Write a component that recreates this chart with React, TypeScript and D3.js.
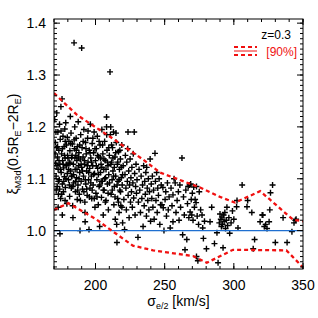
import React from "react";
import { scaleLinear, line, range } from "d3";

// scatter: [sigma_e/2, xi]
const points: [number, number][] = [
  [170.5,1.214],[171,1.17],[171.2,1.13],[171.5,1.105],[171.8,1.16],[172,1.227],[172.3,1.085],[172.5,1.142],[172.8,1.19],[173,1.118],
  [173.2,1.07],[173.5,1.155],[173.8,1.098],[174,1.205],[174.3,1.128],[174.5,1.176],[174.8,1.062],[175,1.239],[175.2,1.112],[175.5,1.148],
  [175.8,1.254],[176,1.09],[176.2,1.135],[176.5,1.182],[176.8,1.075],[177,1.121],[177.3,1.162],[177.5,1.104],[177.8,1.196],[178,1.14],
  [178.2,1.083],[178.5,1.208],[178.8,1.127],[179,1.165],[179.3,1.052],[179.6,1.11],[179.8,1.145],[174.3,0.994],[173,1.045],[176,1.03],[178,1.058],
  [180.5,1.098],[180.8,1.172],[181,1.132],[181.3,1.066],[181.5,1.154],[181.8,1.22],[182,1.115],[182.3,1.188],[182.5,1.082],[182.8,1.141],
  [183,1.105],[183.3,1.167],[183.5,1.048],[183.7,1.025],[184,1.128],[184.2,1.092],[184.5,1.362],[184.8,1.158],[185,1.2],[185.3,1.118],
  [185.5,1.075],[185.8,1.145],[186,1.178],[186.3,1.102],[186.5,1.135],[186.8,1.06],[187,1.162],[187.3,1.088],[187.5,1.21],[187.8,1.125],
  [188,1.15],[188.3,1.07],[188.6,1.112],[188.8,1.0],[189,1.138],[189.3,1.185],[189.6,1.095],[190,1.352],[190,1.122],
  [190.3,1.16],[190.6,1.08],[191,1.142],[191.3,1.105],[191.6,1.195],[192,1.128],[192.3,1.055],[192.4,1.035],[192.5,1.017],[192.8,1.17],
  [193,1.09],[193.3,1.148],[193.6,1.115],[194,1.068],[194.3,1.178],[194.6,1.132],[195,1.098],[195.3,1.002],[195.5,1.155],[195.8,1.12],
  [196,1.082],[196.3,1.205],[196.6,1.14],[197,1.105],[197.3,1.062],[197.6,1.168],[198,1.125],[198.3,1.088],[198.6,1.15],[199,1.19],
  [199.3,1.11],[199.6,1.045],[200,1.135],
  [200.3,1.072],[200.6,1.158],[201,1.098],[201.3,1.182],[201.6,1.12],[202,1.05],[202.3,1.142],[202.6,1.085],[203,1.008],[203.3,1.165],
  [203.6,1.112],[204,1.128],[204.3,1.064],[204.6,1.195],[205,1.095],[205.3,1.148],[205.6,1.03],[206,1.118],[206.3,1.078],[206.6,1.172],
  [207,1.135],[207.3,1.102],[207.6,1.058],[208,1.219],[208.3,1.155],[208.6,1.09],[209,1.125],[209.3,1.04],[209.6,1.108],[210,1.145],[210.5,1.306],
  [210.8,1.185],[211,1.2],[211.3,1.07],[211.6,1.132],[212,1.098],[212.3,1.16],[212.6,1.115],[213,1.19],[213.3,1.05],[213.6,1.085],
  [214,1.142],[214.3,1.022],[214.6,1.105],[215,1.17],[215.3,1.012],[215.5,0.977],[215.8,1.128],[216,1.062],[216.3,1.095],[216.6,1.152],
  [217,1.035],[217.3,1.118],[217.6,1.078],[218,1.138],[218.3,1.048],[218.6,1.102],[219,1.165],[219.3,1.088],[219.6,1.015],[220,1.125],
  [220.5,1.06],[221,1.002],[221.3,1.108],[221.6,1.145],[222,1.082],[222.3,1.04],[222.6,1.132],[223,1.095],[223.3,1.158],[223.6,1.068],
  [224,1.115],[224.3,1.025],[224.6,1.088],[225,1.138],[225.3,1.055],[225.6,1.102],[226,1.075],[226.3,1.122],[226.6,1.045],[227,1.092],
  [227.3,1.148],[227.6,1.063],[228,1.19],[228.3,1.11],[228.6,1.03],[229,1.085],[229.3,1.128],[229.6,1.072],[230,1.098],[230.7,0.987],
  [231,1.055],[231.5,1.118],[232,1.078],[232.5,1.035],[233,1.105],[233.5,1.062],[234,1.088],[234.4,1.008],[234.8,1.125],[235.2,1.048],
  [235.6,1.095],[236,1.07],[236.4,1.112],[236.8,1.028],[237,1.122],[237.4,1.082],[237.8,1.058],[238.2,1.1],[238.6,1.04],[239,1.075],
  [239.5,1.138],[239.8,1.018],
  [240.3,1.09],[240.7,1.062],[241.1,1.105],[241.5,1.045],[242,1.078],[242.4,1.022],[243,1.149],[243.3,1.095],[243.7,1.058],[244.2,1.112],
  [244.6,1.035],[245,1.082],[245.5,1.068],[246,1.1],[246.5,1.012],[247,1.05],[247.5,1.088],[248,1.05],[248.7,1.083],[249,1.044],
  [249.5,1.0],[250.3,1.06],
  [250.8,1.075],[251.3,1.028],[252,1.092],[252.6,1.04],[253.2,1.065],[254,1.005],[254.6,1.082],[255.3,1.048],[256,1.069],[256,1.017],
  [256.8,1.1],[257.6,1.092],[258.2,1.035],[259,1.058],[259.9,1.075],[260.4,1.02],
  [261,1.088],[261.5,1.045],[262.5,1.14],[263,0.992],[263.6,1.065],[264.2,1.03],[264.7,0.963],[265.3,1.078],[266,0.983],[266.5,1.052],
  [267,1.085],[267.5,1.025],[268,1.088],[268.4,1.036],[268.8,1.09],[269.2,1.06],[269.6,1.03],[270,1.072],
  [270.5,1.02],[271,1.084],[271.5,1.045],[272,1.06],[272.7,1.054],[273,1.085],[273,0.95],[273.5,1.028],[274,0.942],[274.5,1.012],
  [275,1.075],[276,1.04],[277,1.03],[277.5,1.005],[278,0.985],[278.8,1.018],
  [280.2,0.965],[282.8,1.017],[284,1.045],[286,0.975],[287.8,0.996],[288.6,0.938],[289.5,1.015],[290,1.032],[290.6,1.022],[291,1.008],
  [291.4,1.026],[291.8,1.012],[292.2,0.967],[292.6,1.03],[293,1.018],[293.5,1.035],[294,1.004],[294.5,1.02],[295,1.045],[295.5,1.01],
  [296.4,1.025],[297,0.995],[298,1.015],[299,1.038],[300,1.022],
  [302,1.046],[302.3,1.058],[303,1.005],[306,1.088],[309.5,1.046],[310,1.058],[313,1.035],[314,0.965],[315,0.983],[319,1.017],
  [320.5,1.03],[321,1.03],[322,1.008],[323,1.012],[324,1.004],[325.5,1.017],[326,1.04],[326.5,1.073],[328,1.088],[330,0.977],
  [335.6,1.025],[338.5,0.977],[342,0.998],[343.5,1.015],[344.5,1.02],[345,1.022],
  [170.8,1.148],[171.4,1.19],[171.6,1.078],[172.1,1.125],[172.6,1.162],[173.1,1.095],[173.6,1.135],[174.1,1.08],[174.6,1.118],[175.1,1.192],
  [175.6,1.07],[176.1,1.158],[176.6,1.128],[177.1,1.095],[177.6,1.145],[178.1,1.172],[178.6,1.1],[179.1,1.125],[179.6,1.18],[180.1,1.14],
  [180.6,1.118],[181.1,1.088],[181.6,1.13],[182.1,1.168],[182.6,1.105],[183.1,1.145],[183.6,1.085],[184.1,1.108],[184.6,1.175],[185.1,1.14],
  [185.6,1.095],[186.1,1.155],[186.6,1.118],[187.1,1.078],[187.6,1.142],[188.1,1.1],[188.6,1.165],[189.1,1.058],[189.6,1.128],[190.6,1.115],
  [191.1,1.172],[191.6,1.075],[192.1,1.135],[192.6,1.098],[193.1,1.158],[193.6,1.08],[194.1,1.125],[194.6,1.192],[195.1,1.112],[195.6,1.065],
  [196.1,1.15],[196.6,1.092],[197.1,1.132],[197.6,1.078],[198.1,1.178],[198.6,1.108],[199.1,1.062],[199.6,1.158],[200.6,1.125],[201.1,1.065],
  [201.6,1.145],[202.1,1.108],[202.6,1.172],[203.1,1.088],[203.6,1.14],[204.1,1.095],[204.6,1.122],[205.1,1.165],[205.6,1.078],[206.1,1.138],
  [206.6,1.1],[207.1,1.055],[207.6,1.118],[208.1,1.185],[208.6,1.132],[209.1,1.072],[209.6,1.16],[210.1,1.092],[211.1,1.128],[211.6,1.165],
  [212.1,1.078],[212.6,1.14],[213.1,1.105],[213.6,1.122],[214.1,1.065],[214.6,1.15],[215.6,1.088],[216.1,1.132],[216.6,1.055],[217.1,1.098],
  [217.6,1.155],[218.1,1.075],[218.6,1.122],[219.1,1.045],[219.6,1.108],[223.5,1.19],[214.8,1.188],[208,1.2],
];

// 90% envelope
const upper90: [number, number][] = [
  [170,1.265],[186.6,1.223],[210.5,1.181],[234.4,1.137],[246.6,1.112],[275.6,1.083],[290,1.065],
  [300.9,1.054],[319,1.076],[326,1.06],[342.8,1.021],[350,1.018],
];
const lower90: [number, number][] = [
  [170,1.04],[180.4,1.053],[200.9,1.021],[211.7,1.0],[227,0.971],[241.6,0.962],[270.5,0.951],[280.4,0.938],
  [299.4,0.963],[338,0.962],[350,0.929],
];

const xMajor = [200, 250, 300, 350];
const yMajor = [1.0, 1.1, 1.2, 1.3, 1.4];
const xMinor = range(170, 351, 10);
const yMinor = range(93, 141, 1).map((v) => v / 100);

const W = 318, H = 318;
const L = 54, T = 19, R = 303, B = 269;
const FONT = "'Liberation Sans', Arial, Helvetica, sans-serif";

export default function App() {
  const x = scaleLinear().domain([170, 350]).range([L, R]);
  const y = scaleLinear().domain([0.926, 1.408]).range([B, T]);
  const path = line<[number, number]>().x((d) => x(d[0])).y((d) => y(d[1]));

  return (
    <svg width={W} height={H} style={{ position: "absolute", left: 0, top: 0, background: "#fff" }} fontFamily={FONT}>
      <defs>
        <clipPath id="plot">
          <rect x={L} y={T} width={R - L} height={B - T} />
        </clipPath>
      </defs>

      {/* scatter */}
      <g stroke="#000" strokeWidth={1.4} clipPath="url(#plot)">
        {points.map((p, i) => {
          const cx = x(p[0]), cy = y(p[1]);
          return (
            <path key={i} d={`M${cx - 3},${cy}H${cx + 3}M${cx},${cy - 3}V${cy + 3}`} />
          );
        })}
      </g>

      {/* reference line at 1 */}
      <line x1={L} x2={R} y1={y(1)} y2={y(1)} stroke="#1f6fd0" strokeWidth={1.3} />

      {/* 90% envelope */}
      <g fill="none" stroke="#f01010" strokeWidth={2.3} strokeDasharray="4,3" clipPath="url(#plot)">
        <path d={path(upper90) || ""} />
        <path d={path(lower90) || ""} />
      </g>

      {/* frame + ticks */}
      <g stroke="#000" strokeWidth={1}>
        <rect x={L} y={T} width={R - L} height={B - T} fill="none" />
        {xMinor.map((v) => (
          <g key={"xm" + v}>
            <line x1={x(v)} x2={x(v)} y1={B} y2={B - 3} />
            <line x1={x(v)} x2={x(v)} y1={T} y2={T + 3} />
          </g>
        ))}
        {xMajor.map((v) => (
          <g key={"xM" + v}>
            <line x1={x(v)} x2={x(v)} y1={B} y2={B - 6} />
            <line x1={x(v)} x2={x(v)} y1={T} y2={T + 6} />
          </g>
        ))}
        {yMinor.map((v) => (
          <g key={"ym" + v}>
            <line x1={L} x2={L + 3} y1={y(v)} y2={y(v)} />
            <line x1={R} x2={R - 3} y1={y(v)} y2={y(v)} />
          </g>
        ))}
        {yMajor.map((v) => (
          <g key={"yM" + v}>
            <line x1={L} x2={L + 6} y1={y(v)} y2={y(v)} />
            <line x1={R} x2={R - 6} y1={y(v)} y2={y(v)} />
          </g>
        ))}
      </g>

      {/* tick labels */}
      <g fontSize={14} fill="#000">
        {xMajor.map((v) => (
          <text key={"xl" + v} x={x(v)} y={290} textAnchor="middle">{v}</text>
        ))}
        {yMajor.map((v) => (
          <text key={"yl" + v} x={46} y={y(v) + 5} textAnchor="end">{v.toFixed(1)}</text>
        ))}
      </g>

      {/* axis titles */}
      <text x={(L + R) / 2} y={306} textAnchor="middle" fontSize={14}>
        σ<tspan fontSize={9} dy={3}>e/2</tspan><tspan dy={-3}> [km/s]</tspan>
      </text>
      <text transform={`translate(18,${(T + B) / 2}) rotate(-90)`} textAnchor="middle" fontSize={14}>
        ξ<tspan fontSize={9} dy={3}>M3d</tspan>
        <tspan dy={-3}>(0.5R</tspan><tspan fontSize={9} dy={3}>E</tspan>
        <tspan dy={-3}>−2R</tspan><tspan fontSize={9} dy={3}>E</tspan>
        <tspan dy={-3}>)</tspan>
      </text>

      {/* legend */}
      <text x={291} y={39} textAnchor="end" fontSize={12} fill="#000">z=0.3</text>
      <g stroke="#f01010">
        <line x1={234} x2={257} y1={47} y2={47} strokeWidth={2} strokeDasharray="4,3" />
        <line x1={234} x2={257} y1={51} y2={51} strokeWidth={1} />
        <line x1={234} x2={257} y1={55} y2={55} strokeWidth={2} strokeDasharray="4,3" />
      </g>
      <text x={297} y={56} textAnchor="end" fontSize={12} fill="#f01010">[90%]</text>
    </svg>
  );
}
